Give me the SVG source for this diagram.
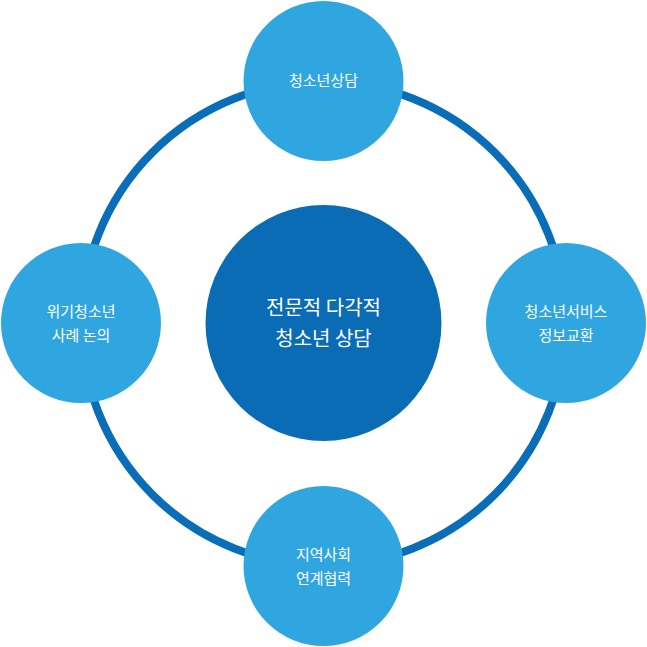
<svg xmlns="http://www.w3.org/2000/svg" width="647" height="647" viewBox="0 0 647 647">
<style>
.s{fill:#30a6e0}
.t{fill:#fff;font-family:"Noto Sans CJK KR","Noto Sans",sans-serif;font-size:15px;text-anchor:middle}
.c{font-size:20px}
</style>
<rect width="647" height="647" fill="#fff"/>
<g id="connectors"><circle cx="323.5" cy="323.5" r="242" fill="none" stroke="#0a6db7" stroke-width="8"/></g>
<g id="center"><circle cx="323.5" cy="323" r="118" fill="#0a6cb5"/><text class="t c" x="323.5" y="315">전문적 다각적</text><text class="t c" x="323.5" y="346">청소년 상담</text></g>
<g id="top"><circle class="s" cx="323.5" cy="81" r="80"/><text class="t" x="323.5" y="86">청소년상담</text></g>
<g id="right"><circle class="s" cx="566" cy="323" r="80"/><text class="t" x="566" y="317">청소년서비스</text><text class="t" x="566" y="341">정보교환</text></g>
<g id="bottom"><circle class="s" cx="323.5" cy="566" r="80"/><text class="t" x="323.5" y="560">지역사회</text><text class="t" x="323.5" y="584">연계협력</text></g>
<g id="left"><circle class="s" cx="81" cy="323" r="80"/><text class="t" x="81" y="317">위기청소년</text><text class="t" x="81" y="341">사례 논의</text></g>
</svg>
